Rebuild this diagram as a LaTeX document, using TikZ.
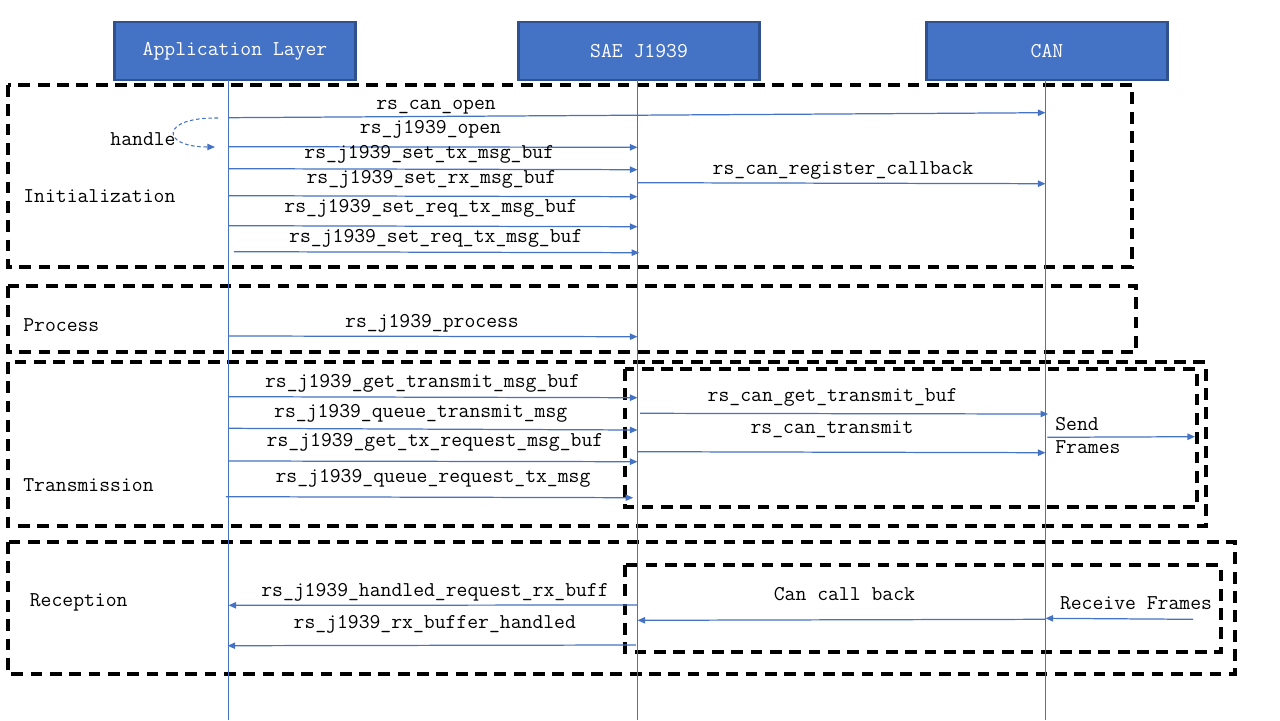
\documentclass[tikz,border=0pt]{standalone}
\usepackage{xcolor}
\usetikzlibrary{arrows.meta}
\definecolor{boxblue}{HTML}{4472C4}
\definecolor{boxedge}{HTML}{2F528F}
\tikzset{
  head/.style={draw=boxedge,line width=1.3pt,fill=boxblue,text=white,minimum width=4.82cm,minimum height=1.16cm,inner sep=0pt},
  life/.style={draw=boxblue,line width=0.55pt},
  msg/.style={draw=boxblue,line width=0.7pt,-{Triangle[length=4.3pt,width=3.6pt]}},
  phase/.style={draw=black,line width=1.8pt,dash pattern=on 6.7pt off 4.3pt},
  lbl/.style={inner sep=0pt,anchor=base},
  tag/.style={inner sep=0pt,anchor=base west},
}

\begin{document}
\begin{tikzpicture}[x=0.02cm,y=-0.02cm,font=\ttfamily\fontsize{12pt}{14pt}\selectfont]
\useasboundingbox (0,0) rectangle (1280,720);

\draw[phase] (8,85) rectangle (1132,267);
\draw[phase] (8,286) rectangle (1136,352);
\draw[phase] (8,362) rectangle (1206,526);
\draw[phase] (625,369) rectangle (1197,507);
\draw[phase] (8,542) rectangle (1235,674);
\draw[phase] (625,565) rectangle (1221,652);

\node[head] (app) at (235,51) {Application Layer};
\node[head] (sae) at (639,51) {SAE J1939};
\node[head] (can) at (1047,51) {CAN};

\coordinate (appL) at (228.5,80);
\coordinate (saeL) at (637.5,80);
\coordinate (canL) at (1045.5,80);
\draw[life] (appL) -- (appL |- 0,720);
\draw[life] (saeL) -- (saeL |- 0,720);
\draw[life] (canL) -- (canL |- 0,720);

\node[tag] (init) at (23,202.7) {Initialization};
\node[tag] (proc) at (23,331.7) {Process};
\node[tag] (trans) at (23,491.7) {Transmission};
\node[tag] (recep) at (29.5,606.7) {Reception};

\draw[msg] (appL |- 0,117.7) -- (canL |- 0,112.7);
\node[lbl] (lOpen) at (436,109.3) {rs\_can\_open};
\coordinate (hStart) at (218,118);
\coordinate (hEnd) at (215,147);
\draw[boxblue,line width=0.6pt,dash pattern=on 2pt off 1.5pt,-{Triangle[length=4.3pt,width=3.6pt]}]
(hStart) .. controls (160,117) and (160,147) .. (hEnd);
\node[lbl] (lHandle) at (143,145.7) {handle};
\draw[msg] (appL |- 0,146.7) -- (saeL |- 0,147.3);
\node[lbl] (lJOpen) at (430.5,133.3) {rs\_j1939\_open};
\draw[msg] (appL |- 0,168.7) -- (saeL |- 0,169.7);
\node[lbl] (lSetTx) at (429.3,158.3) {rs\_j1939\_set\_tx\_msg\_buf};
\draw[msg] (appL |- 0,195.7) -- (saeL |- 0,196.7);
\node[lbl] (lSetRx) at (431.4,183.3) {rs\_j1939\_set\_rx\_msg\_buf};
\draw[msg] (appL |- 0,225.7) -- (saeL |- 0,226.7);
\node[lbl] (lSetReq) at (431,212.7) {rs\_j1939\_set\_req\_tx\_msg\_buf};
\draw[msg] ([xshift=3pt]appL |- 0,251.7) -- ([xshift=1pt]saeL |- 0,252.7);
\node[lbl] (lSetReqB) at (435.8,242.3) {rs\_j1939\_set\_req\_tx\_msg\_buf};
\draw[msg] (saeL |- 0,182.7) -- (canL |- 0,183.7);
\node[lbl] (lRegCb) at (843,174) {rs\_can\_register\_callback};

\draw[msg] (appL |- 0,336) -- (saeL |- 0,336.7);
\node[lbl] (lProc) at (432,327.3) {rs\_j1939\_process};

\draw[msg] (appL |- 0,396.7) -- (saeL |- 0,397.7);
\node[lbl] (lGetTx) at (422.5,387.3) {rs\_j1939\_get\_transmit\_msg\_buf};
\draw[msg] (appL |- 0,428.3) -- (saeL |- 0,430);
\node[lbl] (lQueTx) at (420.7,417.3) {rs\_j1939\_queue\_transmit\_msg};
\draw[msg] (appL |- 0,461) -- (saeL |- 0,461.7);
\node[lbl] (lGetReq) at (435,446.7) {rs\_j1939\_get\_tx\_request\_msg\_buf};
\draw[msg] ([xshift=-1.5pt]appL |- 0,496.7) -- ([xshift=-2.5pt]saeL |- 0,497.7);
\node[lbl] (lQueReq) at (433,482.3) {rs\_j1939\_queue\_request\_tx\_msg};
\draw[msg] ([xshift=1.5pt]saeL |- 0,413.3) -- ([xshift=1.5pt]canL |- 0,414);
\node[lbl] (lCanGet) at (832.6,401.7) {rs\_can\_get\_transmit\_buf};
\draw[msg] (saeL |- 0,451.7) -- (canL |- 0,452.7);
\node[lbl] (lCanTx) at (832,433.3) {rs\_can\_transmit};
\coordinate (sendEnd) at (1195,436.7);
\draw[msg] ([xshift=1pt]canL |- 0,437.3) -- (sendEnd);
\node[tag] (lSend) at (1055,430.7) {Send};
\node[tag] (lFrames) at (1055,453.3) {Frames};

\draw[msg] (saeL |- 0,605) -- (appL |- 0,605.3);
\node[lbl] (lHandled) at (435,596.7) {rs\_j1939\_handled\_request\_rx\_buff};
\draw[msg] ([xshift=-1pt]saeL |- 0,645) -- ([xshift=-0.5pt]appL |- 0,645.7);
\node[lbl] (lRxBuf) at (434.8,628.3) {rs\_j1939\_rx\_buffer\_handled};
\draw[msg] (canL |- 0,619.3) -- (saeL |- 0,620.3);
\node[lbl] (lCallBack) at (844.4,600) {Can call back};
\coordinate (recvStart) at (1193,619.3);
\draw[msg] (recvStart) -- (canL |- 0,618.3);
\node[lbl] (lRecv) at (1136,609) {Receive Frames};
\end{tikzpicture}
\end{document}
